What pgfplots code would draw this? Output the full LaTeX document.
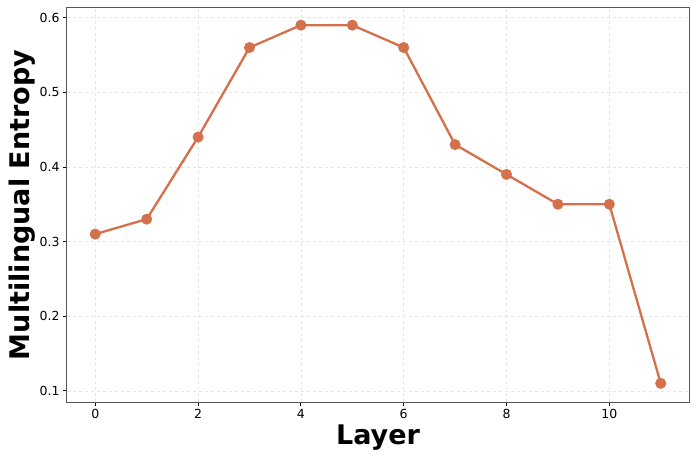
\documentclass[border=0pt]{standalone}
\usepackage{fontspec}
\setmainfont{DejaVu Sans}
\usepackage{pgfplots}
\pgfplotsset{compat=1.18}
\definecolor{lineorange}{HTML}{D4704C}
\definecolor{framegray}{HTML}{555555}
\begin{document}
\begin{tikzpicture}
\begin{axis}[
  scale only axis, width=622pt, height=394pt,
  xmin=-0.55, xmax=11.55, ymin=0.085, ymax=0.613,
  xtick={0,2,4,6,8,10}, ytick={0.1,0.2,0.3,0.4,0.5,0.6},
  /pgf/number format/assume math mode=true,
  /pgf/number format/fixed, /pgf/number format/precision=1,
  ticklabel style={font=\fontsize{12.5}{14}\selectfont},
  tick align=outside, tick pos=left, major tick length=4pt,
  tick style={black, line width=0.8pt},
  axis line style={framegray, line width=1pt},
  grid=major, grid style={gray!20, dashed, line width=0.6pt},
  xlabel={\textbf{Layer}}, ylabel={\textbf{Multilingual Entropy}},
  label style={font=\fontsize{27}{30}\selectfont},
  xlabel style={yshift=1pt}, ylabel style={yshift=-3pt},
]
\addplot[lineorange, line width=2.3pt, mark=*, mark size=4.3pt, mark options={fill=lineorange, draw=lineorange}] coordinates {
(0,0.31) (1,0.33) (2,0.44) (3,0.56) (4,0.59) (5,0.59)
(6,0.56) (7,0.43) (8,0.39) (9,0.35) (10,0.35) (11,0.11)};
\end{axis}
\path (current axis.north east) ++(8pt,8pt);
\path (current axis.south west) ++(-67pt,-59pt);
\end{tikzpicture}
\end{document}
